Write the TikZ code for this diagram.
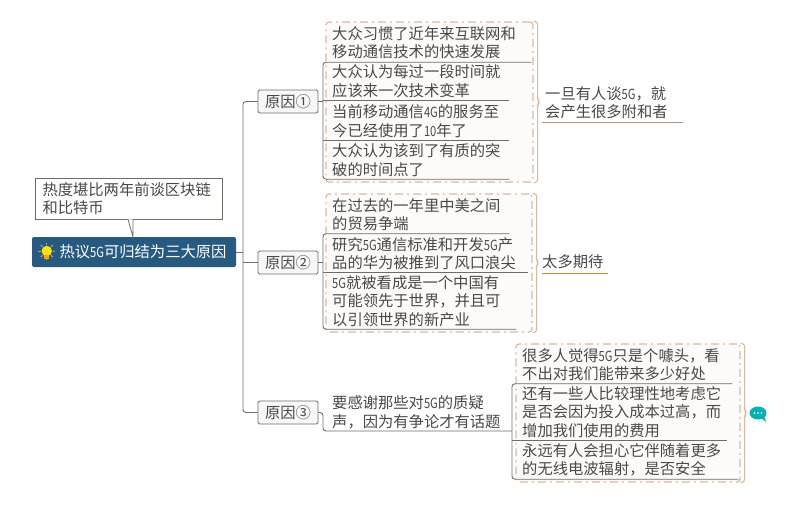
\documentclass[tikz,border=0pt]{standalone}
\usepackage{fontspec}
\usetikzlibrary{calc}
\setmainfont{Noto Sans CJK SC}
\newfontfamily\lafont[FakeStretch=0.8]{Noto Sans CJK SC}
\newcommand\la[1]{{\lafont\fontsize{14}{18.5}\selectfont #1}}
\definecolor{rootblue}{HTML}{265A80}
\definecolor{txt}{HTML}{484848}
\definecolor{linegrey}{HTML}{6E6E66}
\definecolor{grpline}{HTML}{DDB79F}
\definecolor{grpfill}{HTML}{FDFBF9}
\tikzset{
  base/.style={inner sep=0pt,text=txt,font=\fontsize{15.3}{18.5}\selectfont,align=left},
  subtopic/.style={base,anchor=west},
  conn/.style={draw=linegrey,line width=0.9pt,rounded corners=3pt},
  grp/.style={draw=grpline,fill=grpfill,line width=1.1pt,rounded corners=3pt,dash pattern=on 8pt off 4pt on 2pt off 4pt,inner sep=0pt},
  bracestyle/.style={draw=grpline,line width=1.1pt,rounded corners=3pt},
  reason/.style={base,draw=linegrey,fill=black!3,line width=0.8pt,rounded corners=1.5pt,minimum width=60pt,minimum height=23pt,align=center},
  note/.style={base,draw=linegrey,fill=white,line width=0.8pt,minimum width=187pt,minimum height=41pt,text width=172pt},
  rootbox/.style={inner sep=0pt,fill=rootblue,text=white,rounded corners=2pt,minimum width=204pt,minimum height=30pt,font=\fontsize{15.3}{18.5}\selectfont},
  sumline/.style={draw=#1,line width=1pt},
}
\newcommand\bracehere[1]{%
  \draw[bracestyle] (#1.north east) -- ++(4,0) -- ($(#1.east)+(4,-3)$) -- ($(#1.east)+(6,0)$) -- ($(#1.east)+(4,3)$) -- ($(#1.south east)+(4,0)$) -- (#1.south east);}
\begin{document}
\begin{tikzpicture}[x=1pt,y=-1pt]
\useasboundingbox (0,0) rectangle (800,504);
\fill[white] (0,0) rectangle (800,504);

% group frames
\node[grp,minimum width=207pt,minimum height=160pt] (g1) at (429.5,102) {};
\node[grp,minimum width=206pt,minimum height=138pt] (g2) at (429,263) {};
\node[grp,minimum width=224pt,minimum height=138pt] (g3) at (628,413) {};
\bracehere{g1}\bracehere{g2}\bracehere{g3}

% root, note, reasons
\node[rootbox] (root) at (134,252) {\hspace*{18pt}热议\la{5G}可归结为三大原因};
\node[note] (callout) at (128.5,198.5) {热度堪比两年前谈区块链\\和比特币};
\coordinate (tailL) at ($(callout.south)+(-0.5,0)$);
\coordinate (tailR) at ($(callout.south)+(4.5,0)$);
\coordinate (tailTip) at (root.north -| tailR);
\draw[draw=linegrey,fill=white,line width=0.8pt] (tailL) -- (tailTip) -- (tailR);
\node[reason] (r1) at (288,101.5) {原因①};
\node[reason] (r2) at (288,262.5) {原因②};
\node[reason] (r3) at (288,412.5) {原因③};

% trunk
\coordinate (trunk) at (243,252);
\draw[conn] (r1.west) -| (trunk) |- (r3.west);
\draw[conn] (root.east) -- (trunk);
\draw[conn] (trunk |- r2.west) -- (r2.west);

% group 1 (text box bottom = its underline)
\node[subtopic,text width=199pt,minimum height=39pt] (a1) at (332,42.5) {大众习惯了近年来互联网和\\移动通信技术的快速发展};
\node[subtopic,text width=177pt,minimum height=38pt] (a2) at (332,81) {大众认为每过一段时间就\\应该来一次技术变革};
\node[subtopic,text width=177pt,minimum height=38pt] (a3) at (332,121) {当前移动通信\la{4G}的服务至\\今已经使用了\la{10}年了};
\node[subtopic,text width=177pt,minimum height=38pt] (a4) at (332,160) {大众认为该到了有质的突\\破的时间点了};
\coordinate (b1) at (323,101);
\draw[conn] (a1.south east) -- (a1.south west -| b1) -- (a4.south west -| b1) -- (a4.south east);
\draw[conn] (a2.south west -| b1) -- (a2.south east);
\draw[conn] (a3.south west -| b1) -- (a3.south east);
\draw[conn] (r1.east) -- (b1 |- r1.east);

% group 2
\node[subtopic,text width=177pt,minimum height=38pt] (c1) at (332,214.5) {在过去的一年里中美之间\\的贸易争端};
\node[subtopic,text width=196pt,minimum height=38pt] (c2) at (332,253.5) {研究\la{5G}通信标准和开发\la{5G}产\\品的华为被推到了风口浪尖};
\node[subtopic,text width=184pt,minimum height=56pt] (c3) at (332,301) {\la{5G}就被看成是一个中国有\\可能领先于世界，并且可\\以引领世界的新产业};
\coordinate (b2) at (323,262);
\draw[conn] (c1.south east) -- (c1.south west -| b2) -- (c3.south west -| b2) -- (c3.south east);
\draw[conn] (c2.south west -| b2) -- (c2.south east);
\draw[conn] (r2.east) -- (b2 |- r2.east);

% reason 3 topic
\node[subtopic,text width=180pt,minimum height=38pt] (t3) at (332,412.5) {要感谢那些对\la{5G}的质疑\\声，因为有争论才有话题};
\coordinate (b0) at (323,431);
\coordinate (b3) at (512,431);
\draw[conn] (r3.east) -- (r3.east -| b0) -- (b0) -- (b3);

% group 3
\node[subtopic,text width=210pt,minimum height=38pt] (d1) at (522,364.5) {很多人觉得\la{5G}只是个噱头，看\\不出对我们能带来多少好处};
\node[subtopic,text width=205pt,minimum height=56pt] (d2) at (522,412) {还有一些人比较理性地考虑它\\是否会因为投入成本过高，而\\增加我们使用的费用};
\node[subtopic,text width=216pt,minimum height=38pt] (d3) at (522,460) {永远有人会担心它伴随着更多\\的无线电波辐射，是否安全};
\draw[conn] (d1.south east) -- (d1.south west -| b3) -- (d3.south west -| b3) -- (d3.south east);
\draw[conn] (d2.south west -| b3) -- (d2.south east);

% summaries
\node[subtopic,text width=138pt,minimum height=39pt] (s1) at (545,102.5) {一旦有人谈\la{5G}，就\\会产生很多附和者};
\node[subtopic,text width=66pt,minimum height=22pt] (s2) at (542,262) {太多期待};
\draw[sumline=grpline!80!black] (s1.south west) ++(-3,0) -- (s1.south east);
\draw[sumline=orange!50!brown] (s2.south west) -- (s2.south east);

% bulb icon
\coordinate (bulb) at ($(root.west)+(15,-1)$);
\foreach \a in {0,45,...,315} \draw[gray!70!white,line width=1pt] ($(bulb)+(\a:6)$) -- ($(bulb)+(\a:8.5)$);
\fill[yellow!85!orange] (bulb) circle (5.2);
\fill[orange!70!yellow] ($(bulb)+(-2.6,4.2)$) rectangle ($(bulb)+(2.6,8)$);

% chat icon
\coordinate (chat) at (758,413);
\fill[teal!60!cyan] (chat) ellipse (8.5 and 6.5);
\fill[teal!60!cyan] ($(chat)+(2,4)$) -- ($(chat)+(8,9)$) -- ($(chat)+(6,3)$) -- cycle;
\foreach \d in {-3.5,0,3.5} \fill[white] ($(chat)+(\d,0)$) circle (0.9);
\end{tikzpicture}
\end{document}
